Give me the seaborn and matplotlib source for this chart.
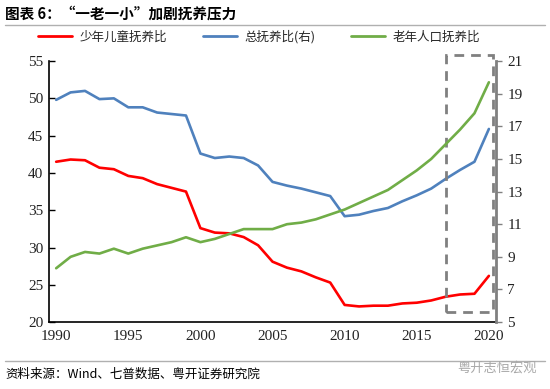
import numpy as np
import pandas as pd
import matplotlib
matplotlib.use('Agg')
import matplotlib.pyplot as plt
import seaborn as sns
from matplotlib.lines import Line2D
from matplotlib.patches import Rectangle

# 数据：1990-2020 抚养比（%）
years = list(range(1990, 2021))
child = [41.5, 41.8, 41.7, 40.7, 40.5, 39.6, 39.3, 38.5, 38.0, 37.5,
         32.6, 32.0, 31.9, 31.4, 30.3, 28.1, 27.3, 26.8, 26.0, 25.3,
         22.3, 22.1, 22.2, 22.2, 22.5, 22.6, 22.9, 23.4, 23.7, 23.8, 26.2]
total = [49.8, 50.8, 51.0, 49.9, 50.0, 48.8, 48.8, 48.1, 47.9, 47.7,
         42.6, 42.0, 42.2, 42.0, 41.0, 38.8, 38.3, 37.9, 37.4, 36.9,
         34.2, 34.4, 34.9, 35.3, 36.2, 37.0, 37.9, 39.2, 40.4, 41.5, 45.9]
old = [8.3, 9.0, 9.3, 9.2, 9.5, 9.2, 9.5, 9.7, 9.9, 10.2,
       9.9, 10.1, 10.4, 10.7, 10.7, 10.7, 11.0, 11.1, 11.3, 11.6,
       11.9, 12.3, 12.7, 13.1, 13.7, 14.3, 15.0, 15.9, 16.8, 17.8, 19.7]
labels = ['少年儿童抚养比', '总抚养比(右)', '老年人口抚养比']
colors = ['#ff0000', '#4f81bd', '#70ad47']
xtick_years = [1990, 1995, 2000, 2005, 2010, 2015, 2020]
highlight = (2017, 2020.3)  # 虚线框的年份范围

df = pd.DataFrame({'year': years, 'child': child, 'total': total, 'old': old})

sns.set_style('white')
plt.rcParams['font.family'] = ['Noto Sans CJK SC', 'DejaVu Sans']

fig = plt.figure(figsize=(5.5, 3.89), dpi=100)
ax = fig.add_axes([0.089, 0.172, 0.813, 0.671])
ax2 = ax.twinx()

sns.lineplot(data=df, x='year', y='child', ax=ax, color=colors[0], lw=1.9)
sns.lineplot(data=df, x='year', y='total', ax=ax, color=colors[1], lw=1.9)
sns.lineplot(data=df, x='year', y='old', ax=ax2, color=colors[2], lw=1.9)

ax.set_xlim(1989.5, 2020.5)
ax.set_ylim(20, 55)
ax2.set_ylim(5, 21)
ax.set_xlabel('')
ax.set_ylabel('')
ax2.set_ylabel('')

# 刻度线在类别之间，标签在年份上
ax.set_xticks([y + 4.5 for y in xtick_years[:-1]])
ax.set_xticklabels([])
ax.set_xticks(xtick_years, minor=True)
ax.set_xticklabels([str(y) for y in xtick_years], minor=True)
ax.tick_params(axis='x', which='major', direction='in', length=4, width=1, color='black')
ax.tick_params(axis='x', which='minor', length=0, pad=6)
ax.set_yticks(np.arange(20, 56, 5))
ax.tick_params(axis='y', direction='in', length=4, width=1, color='black', pad=4)
ax2.set_yticks(np.arange(5, 22, 2))
ax2.tick_params(axis='y', direction='out', length=4, width=1, color='#808080', pad=4)

for lab in ax.get_xticklabels(minor=True) + ax.get_yticklabels() + ax2.get_yticklabels():
    lab.set_fontfamily('Liberation Serif')
    lab.set_fontsize(11)
    lab.set_color('#222222')

ax.spines['top'].set_visible(False)
ax2.spines['top'].set_visible(False)
ax.spines['left'].set_color('black')
ax.spines['bottom'].set_color('black')
ax.spines['left'].set_linewidth(1.2)
ax.spines['bottom'].set_linewidth(1.2)
ax.spines['right'].set_visible(False)
ax2.spines['left'].set_visible(False)
ax2.spines['bottom'].set_visible(False)
ax2.spines['right'].set_color('#808080')
ax2.spines['right'].set_linewidth(2)
ax.grid(False)
ax2.grid(False)

# 虚线框
rect = Rectangle((highlight[0], 21.4), highlight[1] - highlight[0], 55.8 - 21.4,
                 fill=False, ls=(0, (3.5, 2.5)), lw=2, ec='#808080', clip_on=False, zorder=5)
ax.add_patch(rect)

# 标题
fig.text(0.009, 0.965, '图表 6：“一老一小”加剧抚养压力', fontsize=10.5, fontweight='bold',
         va='center', ha='left', color='black')
fig.add_artist(Line2D([0.009, 0.99], [0.936, 0.936], transform=fig.transFigure,
                      color='#b0b0b0', lw=1))

handles = [Line2D([], [], color=c, lw=2) for c in colors]
fig.legend(handles, labels, loc='center', bbox_to_anchor=(0.471, 0.905), ncol=3,
           frameon=False, fontsize=9, handlelength=2.7, handletextpad=0.6,
           columnspacing=2.9, borderaxespad=0)

# 底部来源
fig.add_artist(Line2D([0.009, 0.99], [0.071, 0.071], transform=fig.transFigure,
                      color='#b0b0b0', lw=1))
fig.text(0.009, 0.038, '资料来源：Wind、七普数据、粤开证券研究院', fontsize=9,
         style='italic', va='center', ha='left', color='black')
fig.text(0.975, 0.055, '粤开志恒宏观', fontsize=9.5, va='center', ha='right', color='#a8a8a8')

fig.savefig('out.png', dpi=100)
